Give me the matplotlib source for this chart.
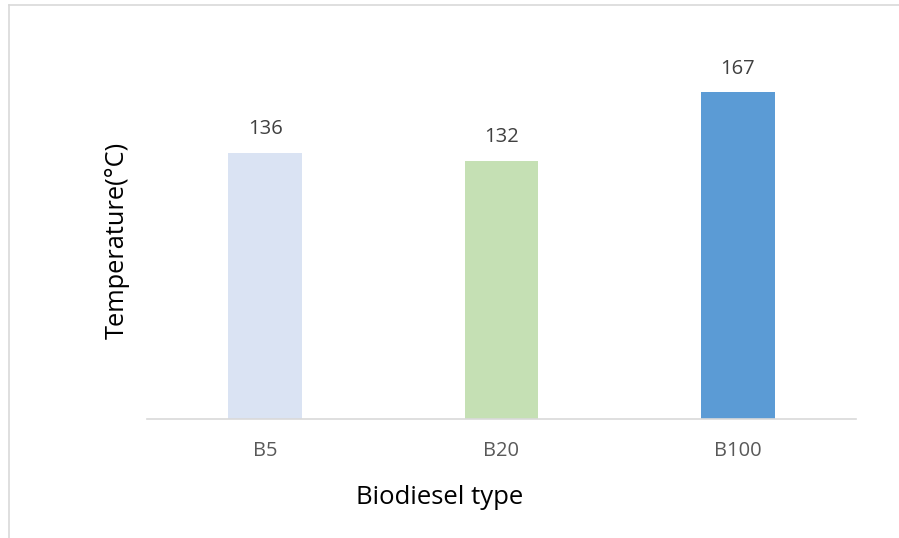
import matplotlib.pyplot as plt
from matplotlib.lines import Line2D

# Data
categories = ['B5', 'B20', 'B100']
temperatures = [136, 132, 167]
bar_colors = ['#DAE3F3', '#C5E0B4', '#5B9BD5']

plt.rcParams['font.family'] = ['Open Sans', 'DejaVu Sans']

fig = plt.figure(figsize=(8.99, 5.38), dpi=100)
W, H = 899, 538
# axes box in pixels: left 147, right 856, baseline 418.5, top ~67
ax = fig.add_axes([147 / W, (H - 418.5) / H, (856 - 147) / W, (418.5 - 67) / H])

x = range(len(categories))
bars = ax.bar(x, temperatures, width=0.313, color=bar_colors)
ax.set_xlim(-0.5, 2.5)
ax.set_ylim(0, 180)

for b, v in zip(bars, temperatures):
    ax.annotate(str(v), (b.get_x() + b.get_width() / 2, v), xytext=(0, 17),
                textcoords='offset points', ha='center', va='center',
                fontsize=14.5, color='#404040')

ax.set_xticks(list(x))
ax.set_xticklabels(categories, fontsize=14.5, color='#595959')
ax.tick_params(axis='x', length=0, pad=16)
ax.set_yticks([])
for s in ['top', 'right', 'left']:
    ax.spines[s].set_visible(False)
ax.spines['bottom'].set_color('#D9D9D9')
ax.spines['bottom'].set_linewidth(1.2)

# axis titles placed where the reference has them
fig.text(439.5 / W, 1 - 498 / H, 'Biodiesel type', fontsize=18.5, color='black',
         ha='center', va='center')
fig.text(117 / W, 1 - 240 / H, 'Temperature(°C)', fontsize=18.3, color='black',
         ha='center', va='center', rotation=90)

# outer chart frame (clipped at right and bottom)
fig.add_artist(Line2D([8.5 / W, 8.5 / W], [0, (H - 4.5) / H], color='#D9D9D9', lw=1.2))
fig.add_artist(Line2D([8.5 / W, 1], [(H - 4.5) / H, (H - 4.5) / H], color='#D9D9D9', lw=1.2))

fig.savefig('out.png', dpi=100)
